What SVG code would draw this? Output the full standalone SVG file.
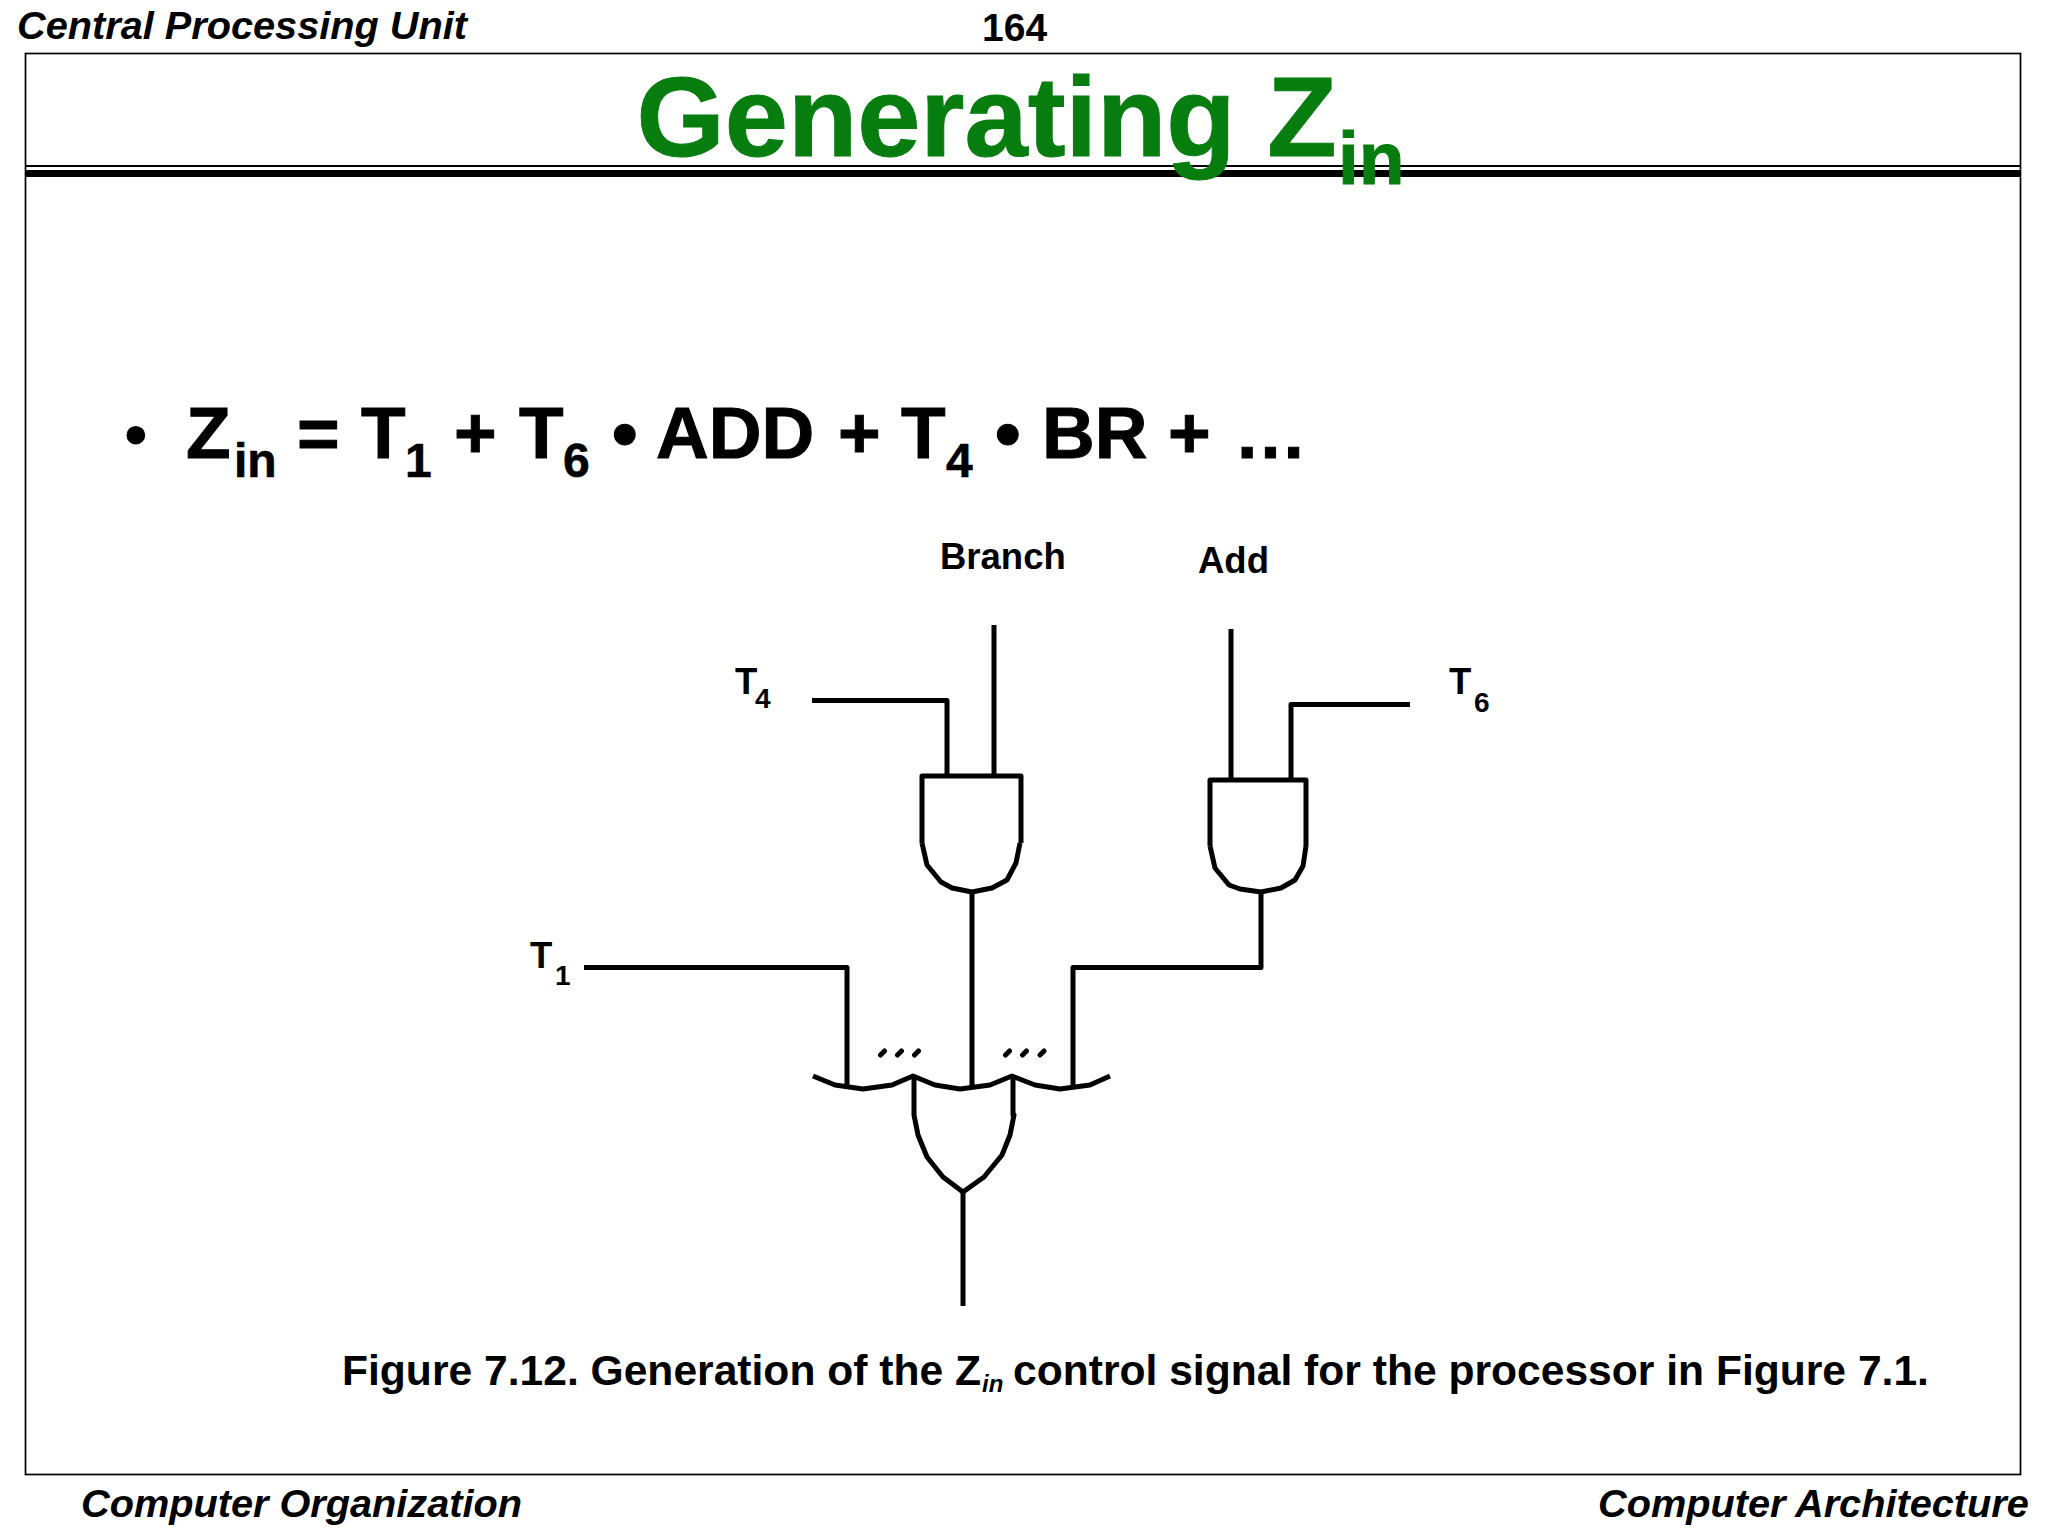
<svg xmlns="http://www.w3.org/2000/svg" width="2048" height="1536" viewBox="0 0 2048 1536">
<style>
text{font-family:"Liberation Sans",Arial,sans-serif;font-weight:bold;fill:#000}
.hd{font-size:39.7px;font-style:italic}
.t{font-size:113.500px;fill:#077d10;stroke:#077d10;stroke-width:1}
.b{font-size:73px;stroke:#000;stroke-width:1}
.bs{font-size:48px;stroke:#000;stroke-width:.6}
.l{font-size:36.5px}
.s{font-size:28px}
.c{font-size:42.6px}
.w{fill:none;stroke:#000;stroke-width:5;stroke-linejoin:round}
.d{fill:none;stroke:#000;stroke-width:5;stroke-linecap:round}
</style>
<rect width="2048" height="1536" fill="#fff"/>
<g id="frame">
<rect x="25.5" y="53.5" width="1995" height="1421" fill="none" stroke="#000" stroke-width="1.7"/>
<rect x="25" y="165" width="1996" height="2" fill="#000"/>
<rect x="25" y="170" width="1996" height="7" fill="#000"/>
</g>
<g id="header">
<text class="hd" x="17" y="39">Central Processing Unit</text>
<text x="982" y="41" style="font-size:39px">164</text>
<text class="t" x="636.5" y="156">Generating Z</text>
<text class="t" x="1338" y="184" style="font-size:75px">in</text>
</g>
<g id="equation">
<text class="b" x="125" y="455" style="font-size:62px">•</text>
<text class="b" x="186" y="458">Z</text>
<text class="bs" x="234" y="477">in</text>
<text class="b" x="297" y="458">=</text>
<text class="b" x="361" y="458">T</text>
<text class="bs" x="405" y="477">1</text>
<text class="b" x="454" y="458">+</text>
<text class="b" x="519" y="458">T</text>
<text class="bs" x="563" y="477">6</text>
<text class="b" x="612" y="458">•</text>
<text class="b" x="656" y="458">ADD</text>
<text class="b" x="838" y="458">+</text>
<text class="b" x="901" y="458">T</text>
<text class="bs" x="946" y="477">4</text>
<text class="b" x="995" y="458">•</text>
<text class="b" x="1042" y="458">BR</text>
<text class="b" x="1168" y="458">+</text>
<text class="b" x="1234" y="458">…</text>
</g>
<g id="connectors">
<path class="w" d="M812 700.500H947V775"/>
<path class="w" d="M994 625V775"/>
<path class="w" d="M1231 629V779"/>
<path class="w" d="M1410 704.500H1291V779"/>
<path class="w" d="M972 892V1087"/>
<path class="w" d="M1261 892V967.500H1073V1086"/>
<path class="w" d="M584 967.500H847V1086"/>
<path class="w" d="M963 1192V1306"/>
</g>
<g id="and-branch">
<path class="w" d="M922 843V776H1021V843"/>
<path class="w" d="M922 843L927 865L941 882L952 888L972 892L992 888L1007 880L1016 863L1020 843"/>
</g>
<g id="and-add">
<path class="w" d="M1210 846V780H1306V846"/>
<path class="w" d="M1210 846L1215 868L1229 885L1240 889L1261 892L1281 888L1295 880L1303 866L1306 846"/>
</g>
<g id="or-gate">
<path class="w" d="M813 1076L835 1085L863 1089L892 1085L913 1076L935 1085L960 1089L990 1085L1012 1076L1035 1085L1060 1089L1090 1085L1110 1076"/>
<path class="w" d="M914 1076V1115L918 1135L927 1157L943 1177L963 1192L984 1177L1002 1155L1010 1135L1014 1115L1013 1115V1076"/>
<path class="d" d="M880.500 1055L884.500 1051M897.500 1055L901.500 1051M914.500 1055L918.500 1051M1005.500 1055L1009.500 1051M1022.500 1055L1026.500 1051M1040 1055L1044 1051"/>
</g>
<g id="labels">
<text class="l" x="940" y="569">Branch</text>
<text class="l" x="1198" y="573">Add</text>
<text class="l" x="735" y="694">T</text>
<text class="s" x="755" y="708">4</text>
<text class="l" x="1449" y="694">T</text>
<text class="s" x="1474" y="712">6</text>
<text class="l" x="530" y="968">T</text>
<text class="s" x="555" y="985">1</text>
</g>
<g id="caption">
<text class="c" x="342" y="1385">Figure 7.12. Generation of the Z</text>
<text x="982" y="1392" style="font-size:24px;font-style:italic">in</text>
<text class="c" x="1013" y="1385">control signal for the processor in Figure 7.1.</text>
</g>
<g id="footer">
<text class="hd" x="81" y="1517">Computer Organization</text>
<text class="hd" x="1598" y="1517">Computer Architecture</text>
</g>
</svg>
